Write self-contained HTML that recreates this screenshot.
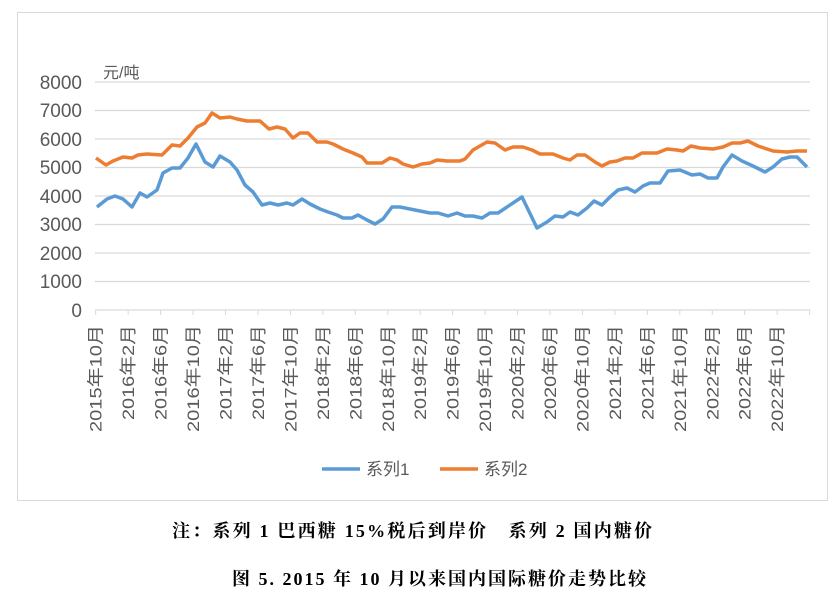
<!DOCTYPE html>
<html><head><meta charset="utf-8"><style>
body{margin:0;background:#fff;width:840px;height:599px;overflow:hidden}
.cap{position:absolute;white-space:nowrap;font-family:"Liberation Serif","Noto Serif CJK SC",serif;font-weight:bold;font-size:18px;color:#000}
</style></head><body>
<svg width="840" height="599" style="position:absolute;left:0;top:0" font-family="'Liberation Sans','Noto Sans CJK SC',sans-serif">
<rect x="17.5" y="12.5" width="810" height="488" fill="none" stroke="#d9d9d9"/>
<g stroke="#d9d9d9" stroke-width="1.2">
<line x1="95" x2="810" y1="82" y2="82"/><line x1="95" x2="810" y1="110.5" y2="110.5"/>
<line x1="95" x2="810" y1="139" y2="139"/><line x1="95" x2="810" y1="167.5" y2="167.5"/>
<line x1="95" x2="810" y1="196" y2="196"/><line x1="95" x2="810" y1="224.5" y2="224.5"/>
<line x1="95" x2="810" y1="253" y2="253"/><line x1="95" x2="810" y1="281.5" y2="281.5"/>
<line x1="95" x2="810" y1="310" y2="310"/>
</g>
<g stroke="#d9d9d9" id="ticks"></g>
<g font-size="19" fill="#595959" text-anchor="end">
<text x="82" y="89">8000</text><text x="82" y="117">7000</text><text x="82" y="146">6000</text><text x="82" y="174">5000</text><text x="82" y="203">4000</text><text x="82" y="231">3000</text><text x="82" y="260">2000</text><text x="82" y="288">1000</text><text x="82" y="317">0</text>
</g>
<text x="103" y="78" font-size="16" fill="#595959">元/吨</text>
<g id="xl" font-size="17" fill="#595959" text-anchor="end"></g>
<polyline fill="none" stroke="#ed7d31" stroke-width="3.5" stroke-linejoin="round" points="96,158 106,165 113,161 123,157 132,158 138,155 147,154 162,155 172,145 180,146 188,138 197,127 205,123 212,113 220,118 230,117 237,119 247,121 260,121 269,129 277,127 285,129 293,138 300,133 308,133 317,142 327,142 333,144 343,149 353,153 362,157 367,163 375,163 382,163 390,158 397,160 403,164 413,167 422,164 430,163 437,160 447,161 460,161 465,159 473,150 487,142 495,143 505,150 513,147 523,147 532,150 540,154 553,154 563,158 570,160 577,155 585,155 595,162 602,166 610,162 617,161 625,158 633,158 642,153 648,153 657,153 667,149 677,150 683,151 691,146 700,148 713,149 723,147 732,143 740,143 748,141 758,146 767,149 773,151 787,152 797,151 807,151"/>
<polyline fill="none" stroke="#5b9bd5" stroke-width="3.5" stroke-linejoin="round" points="97,207 107,199 115,196 123,199 132,207 140,193 147,197 157,190 163,173 172,168 180,168 188,158 196,144 205,162 213,167 220,156 230,162 237,170 245,185 253,192 262,205 270,203 278,205 287,203 293,205 302,199 310,204 320,209 328,212 337,215 343,218 352,218 358,215 367,220 375,224 383,219 392,207 400,207 410,209 420,211 430,213 438,213 448,216 457,213 465,216 473,216 482,218 490,213 498,213 522,197 537,228 547,222 555,216 563,217 570,212 578,215 587,208 594,201 602,205 610,197 618,190 627,188 635,192 643,186 650,183 660,183 668,171 680,170 692,175 700,174 708,178 717,178 723,167 732,155 742,161 753,166 765,172 773,167 782,159 790,157 797,157 807,167"/>
<line x1="322" x2="360" y1="469" y2="469" stroke="#5b9bd5" stroke-width="3.5"/>
<text x="366" y="475" font-size="17" fill="#595959">系列1</text>
<line x1="440" x2="478" y1="469" y2="469" stroke="#ed7d31" stroke-width="3.5"/>
<text x="484" y="475" font-size="17" fill="#595959">系列2</text>
</svg>
<div class="cap" style="top:517px;left:172px;letter-spacing:2.2px">注：系列 1 巴西糖 15%税后到岸价　系列 2 国内糖价</div>
<div class="cap" style="top:565px;left:232px;letter-spacing:2px">图 5. 2015 年 10 月以来国内国际糖价走势比较</div>
<script>
var labs=["2015年10月","2016年2月","2016年6月","2016年10月","2017年2月","2017年6月","2017年10月","2018年2月","2018年6月","2018年10月","2019年2月","2019年6月","2019年10月","2020年2月","2020年6月","2020年10月","2021年2月","2021年6月","2021年10月","2022年2月","2022年6月","2022年10月"];
var t="",l="";
for(var i=0;i<=22;i++){var x=95.7+i*32.45;t+='<line x1="'+x+'" x2="'+x+'" y1="310" y2="315"/>';}
for(var i=0;i<22;i++){var x=95.7+i*32.45+6;var w=labs[i].length==8?107:95;l+='<text transform="translate('+x+',325) rotate(-90)" textLength="'+w+'" lengthAdjust="spacingAndGlyphs">'+labs[i]+'</text>';}
document.getElementById("ticks").innerHTML=t;document.getElementById("xl").innerHTML=l;
</script>
</body></html>
